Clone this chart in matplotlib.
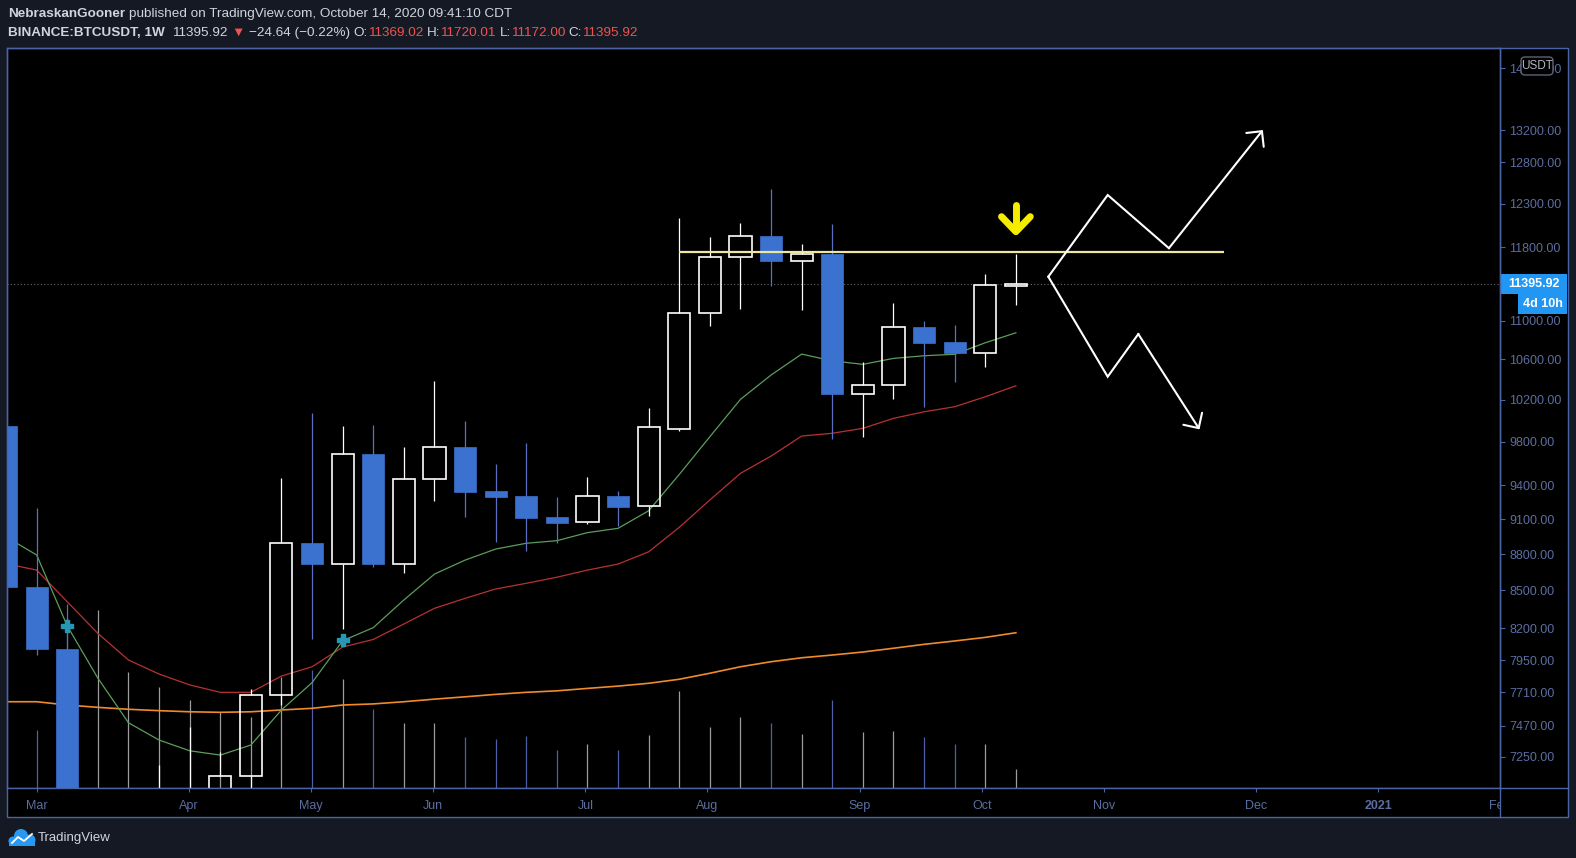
import numpy as np
import pandas as pd
import matplotlib.pyplot as plt
from matplotlib.patches import Rectangle, FancyBboxPatch, Circle
from matplotlib.ticker import FixedLocator, NullLocator

plt.rcParams['font.family'] = ['Liberation Sans', 'DejaVu Sans']

# weekly BINANCE:BTCUSDT candles, first bar = week of 2020-02-24
first_week = '2020-02-24'
opens = [9946, 8530, 8037, 5361, 5816, 5881, 6772, 6912, 7117, 7689, 8892, 8720,
         9684, 8715, 9452, 9747, 9349, 9302, 9117, 9072, 9300, 9212, 9914, 11079,
         11687, 11929, 11649, 11724, 10259, 10341, 10931, 10778, 10669, 11369.02]
highs = [10030, 9197, 8390, 6900, 6833, 7193, 7462, 7285, 7733, 9462, 10068, 9946,
         9957, 9749, 10383, 9995, 9590, 9789, 9297, 9474, 9349, 10117, 12131, 11913,
         12077, 12477, 11837, 12065, 10577, 11184, 10997, 10955, 11499, 11720.01]
lows = [8450, 7991, 3782, 4442, 5670, 5860, 6750, 6458, 6800, 7620, 8111, 8195,
        8690, 8641, 9261, 9115, 8905, 8829, 8892, 9055, 9042, 9129, 9900, 10942,
        11127, 11375, 11113, 9827, 9846, 10210, 10132, 10374, 10527, 11172.00]
closes = [8527, 8037, 5361, 5816, 5881, 6772, 6912, 7117, 7689, 8892, 8720, 9684,
          8720, 9455, 9747, 9342, 9297, 9111, 9069, 9300, 9208, 9934, 11079, 11687,
          11925, 11649, 11724, 10259, 10341, 10931, 10771, 10669, 11380, 11395.92]
# volume in thousand BTC
volume_k = [520, 348, 1020, 1068, 696, 606, 528, 456, 426, 666, 708, 654,
            474, 390, 390, 306, 294, 312, 228, 264, 228, 318, 582, 366,
            426, 390, 324, 528, 336, 342, 306, 264, 264, 114]
vol_full = 4440  # volume that fills the whole pane height

ema_green = [8946, 8793, 8216, 7816, 7490, 7367, 7292, 7262, 7332, 7582, 7783, 8101,
             8203, 8423, 8634, 8750, 8843, 8892, 8914, 8983, 9020, 9173, 9497, 9846,
             10204, 10444, 10655, 10586, 10551, 10611, 10638, 10653, 10771, 10874]
ema_red = [8720, 8667, 8408, 8158, 7953, 7847, 7766, 7711, 7711, 7832, 7902, 8052,
           8111, 8232, 8356, 8436, 8512, 8558, 8608, 8667, 8717, 8820, 9029, 9268,
           9507, 9665, 9852, 9878, 9925, 10020, 10083, 10132, 10229, 10337]
ema_orange = [7642, 7642, 7618, 7601, 7587, 7577, 7569, 7565, 7569, 7582, 7594, 7618,
              7626, 7642, 7661, 7678, 7696, 7711, 7722, 7740, 7757, 7778, 7808, 7853,
              7902, 7940, 7970, 7991, 8014, 8043, 8073, 8099, 8127, 8163]
cross_weeks = [2, 11]
cross_prices = [8216, 8106]

price_ticks = [7250, 7470, 7710, 7950, 8200, 8500, 8800, 9100, 9400, 9800,
               10200, 10600, 11000, 11800, 12300, 12800, 13200, 14000]

# drawings
resistance = 11751
resistance_span = [22, 39.8]
up_path_w = [34.06, 36.0, 38.0, 41.07]
up_path_p = [11473, 12405, 11790, 13200]
down_path_w = [34.06, 36.0, 37.0, 39.0]
down_path_p = [11473, 10427, 10861, 9915]
marker_week = 33
marker_top, marker_tip, marker_wing = 12287, 11978, 12151

W, H = 1576, 858
bg = '#151924'
frame = '#4a64a8'
axis_txt = '#5c6e9f'
txt = '#d1d4dc'
red_txt = '#ef5350'
down_fill = '#3c72cf'
down_wick = '#5b70c0'
up_vol = '#9c9c9c'
down_vol = '#4c5fa8'
tv_blue = '#2196f3'

fig = plt.figure(figsize=(W / 100, H / 100), dpi=100)
fig.patch.set_facecolor(bg)

# black chart area behind everything
fig.add_artist(Rectangle((7.3 / W, 1 - 817 / H), (1568 - 7.3) / W, (817 - 48) / H,
                         transform=fig.transFigure, fc='black', ec='none', zorder=-1))

ax = fig.add_axes([7.3 / W, 1 - 788 / H, (1500 - 7.3) / W, (788 - 48) / H])
ax.set_facecolor('black')
ax.set_yscale('log')
ax.set_ylim(7037, 14277)
ax.set_xlim(0.04, 48.82)
for s in ax.spines.values():
    s.set_color(frame)
    s.set_linewidth(1)

x = np.arange(len(opens))
o = np.array(opens)
c = np.array(closes)
up = c >= o

# volume overlay
ax.vlines(x, 0, np.array(volume_k) / vol_full, transform=ax.get_xaxis_transform(),
          colors=[up_vol if u else down_vol for u in up], lw=0.9, zorder=1)

# moving averages
ax.plot(x, ema_orange, color='#f08a2a', lw=1.2, zorder=2)
ax.plot(x, ema_red, color='#b83232', lw=0.9, zorder=2)
ax.plot(x, ema_green, color='#5b9e5b', lw=0.9, zorder=2)

# candles
body_w = 0.72
for i in x:
    lo, hi = min(opens[i], closes[i]), max(opens[i], closes[i])
    if up[i]:
        ax.vlines(i, hi, highs[i], color='white', lw=0.9, zorder=4)
        ax.vlines(i, lows[i], lo, color='white', lw=0.9, zorder=4)
        ax.add_patch(Rectangle((i - body_w / 2, lo), body_w, hi - lo, fill=False,
                               ec='white', lw=1.2, zorder=4))
    else:
        ax.vlines(i, lows[i], highs[i], color=down_wick, lw=0.9, zorder=3.9)
        ax.add_patch(Rectangle((i - body_w / 2, lo), body_w, hi - lo,
                               fc=down_fill, ec=down_fill, lw=0.5, zorder=4))

ax.plot(cross_weeks, cross_prices, ls='none', marker='P', ms=9, color='#2897b4',
        mec='#2897b4', zorder=5)

# current price line
ax.axhline(closes[-1], color='#6a6d78', ls=(0, (1, 2)), lw=0.8, zorder=1.5)

# drawings
ax.hlines(resistance, resistance_span[0], resistance_span[1], color='#efe79b', lw=1.6, zorder=6)
for pw, pp in [(up_path_w, up_path_p), (down_path_w, down_path_p)]:
    ax.plot(pw[:-1], pp[:-1], color='white', lw=1.5, zorder=6, solid_joinstyle='miter')
    ax.annotate('', xy=(pw[-1], pp[-1]), xytext=(pw[-2], pp[-2]),
                arrowprops=dict(arrowstyle='->,head_length=0.8,head_width=0.8',
                                color='white', lw=1.5, shrinkA=0, shrinkB=0), zorder=6)
ax.plot([marker_week, marker_week], [marker_top, marker_tip * 1.004], color='#f5ec00',
        lw=5, solid_capstyle='round', zorder=6)
ax.plot([marker_week - 0.47, marker_week, marker_week + 0.47],
        [marker_wing, marker_tip, marker_wing], color='#f5ec00', lw=5,
        solid_capstyle='round', solid_joinstyle='round', zorder=6)

# price axis
ax.yaxis.tick_right()
ax.yaxis.set_major_locator(FixedLocator(price_ticks))
ax.yaxis.set_minor_locator(NullLocator())
ax.set_yticks(price_ticks, [f'{t:.2f}' for t in price_ticks])
ax.tick_params(axis='y', which='major', length=3.6, width=0.8, color=frame,
               labelcolor=axis_txt, labelsize=9, pad=3)
ax.tick_params(axis='y', which='minor', length=0)
ax.tick_params(axis='x', bottom=False, labelbottom=False)

# time axis
weeks_all = pd.date_range(first_week, periods=52, freq='7D')
tick_w, tick_lab = [], []
for i in range(1, len(weeks_all)):
    if weeks_all[i].month != weeks_all[i - 1].month:
        tick_w.append(i)
        tick_lab.append(str(weeks_all[i].year) if weeks_all[i].month == 1
                        else weeks_all[i].strftime('%b'))
tax = fig.add_axes([7.3 / W, 1 - 817 / H, (1500 - 7.3) / W, 29 / H])
tax.set_facecolor('black')
tax.set_xlim(ax.get_xlim())
tax.set_ylim(0, 1)
tax.set_yticks([])
tax.set_xticks(tick_w)
tax.tick_params(axis='x', top=True, bottom=False, direction='in', length=3,
                width=0.8, color=frame, labelbottom=False)
for s in tax.spines.values():
    s.set_visible(False)
for w, lab in zip(tick_w, tick_lab):
    tax.text(w, 0.38, lab, ha='center', va='center', color=axis_txt, fontsize=9,
             fontweight='bold' if lab.isdigit() else 'normal', clip_on=True)

# overlay in pixel coordinates for the page furniture
ov = fig.add_axes([0, 0, 1, 1], zorder=10)
ov.set_xlim(0, W)
ov.set_ylim(H, 0)
ov.axis('off')
ov.patch.set_visible(False)

ov.add_patch(Rectangle((7.3, 48), 1568 - 7.3, 817 - 48, fill=False, ec=frame, lw=1))
ov.plot([1500, 1500], [48, 817], color=frame, lw=1)
ov.plot([7.3, 1568], [788, 788], color=frame, lw=1)

# USDT badge (sits over the top price label, as on the original)
ov.add_patch(FancyBboxPatch((1521, 57), 32, 18, boxstyle='round,pad=0,rounding_size=4',
                            fc='black', ec='#5d6375', lw=1))
ov.text(1537, 66, 'USDT', ha='center', va='center', color='#b2b5be', fontsize=8.5)

# last price label
fig.canvas.draw()
yc = H - ax.transData.transform((0, closes[-1]))[1]
ov.add_patch(Rectangle((1500, yc - 10), 67, 20, fc=tv_blue, ec='none'))
ov.text(1533.5, yc, f'{closes[-1]:.2f}', ha='center', va='center', color='white',
        fontsize=9, fontweight='bold')
ov.add_patch(Rectangle((1518, yc + 10), 49, 20, fc=tv_blue, ec='none'))
ov.text(1542.5, yc + 20, '4d 10h', ha='center', va='center', color='white',
        fontsize=9, fontweight='bold')

# header
renderer = fig.canvas.get_renderer()
hsize = 9.7


def width_of(s, **kw):
    t = ov.text(0, 0, s, **kw)
    w = t.get_window_extent(renderer).width
    t.remove()
    return w


space = width_of('a a', fontsize=hsize) - width_of('aa', fontsize=hsize)


def run_text(x0, y0, parts):
    xx = x0
    for s, col, wt, gap in parts:
        t = ov.text(xx, y0, s, color=col, fontsize=hsize, fontweight=wt, ha='left', va='center')
        xx += t.get_window_extent(renderer).width + gap * space


run_text(8, 14, [('NebraskanGooner', txt, 'bold', 1),
                 ('published on TradingView.com, October 14, 2020 09:41:10 CDT', txt, 'normal', 0)])
run_text(8, 33, [('BINANCE:BTCUSDT, 1W', txt, 'bold', 2),
                 (f'{closes[-1]:.2f}', txt, 'normal', 1),
                 ('\u25bc', red_txt, 'normal', 1),
                 ('\u221224.64 (\u22120.22%)', txt, 'normal', 1),
                 ('O:', txt, 'normal', 0), (f'{opens[-1]:.2f}', red_txt, 'normal', 1),
                 ('H:', txt, 'normal', 0), (f'{highs[-1]:.2f}', red_txt, 'normal', 1),
                 ('L:', txt, 'normal', 0), (f'{lows[-1]:.2f}', red_txt, 'normal', 1),
                 ('C:', txt, 'normal', 0), (f'{closes[-1]:.2f}', red_txt, 'normal', 0)])

# TradingView logo
logo = '#2a98f0'
for cx, cy, r in [(13, 841, 4.5), (21, 836, 7), (30, 840, 5.5)]:
    ov.add_patch(Circle((cx, cy), r, fc=logo, ec='none'))
ov.add_patch(Rectangle((9, 840), 26.5, 6, fc=logo, ec='none'))
ov.plot([12, 18, 24, 32], [843, 837, 841, 834], color='white', lw=1.3)
ov.text(38, 838, 'TradingView', ha='left', va='center', color=txt, fontsize=9.5)

fig.savefig('out.png', dpi=100, facecolor=fig.get_facecolor())
